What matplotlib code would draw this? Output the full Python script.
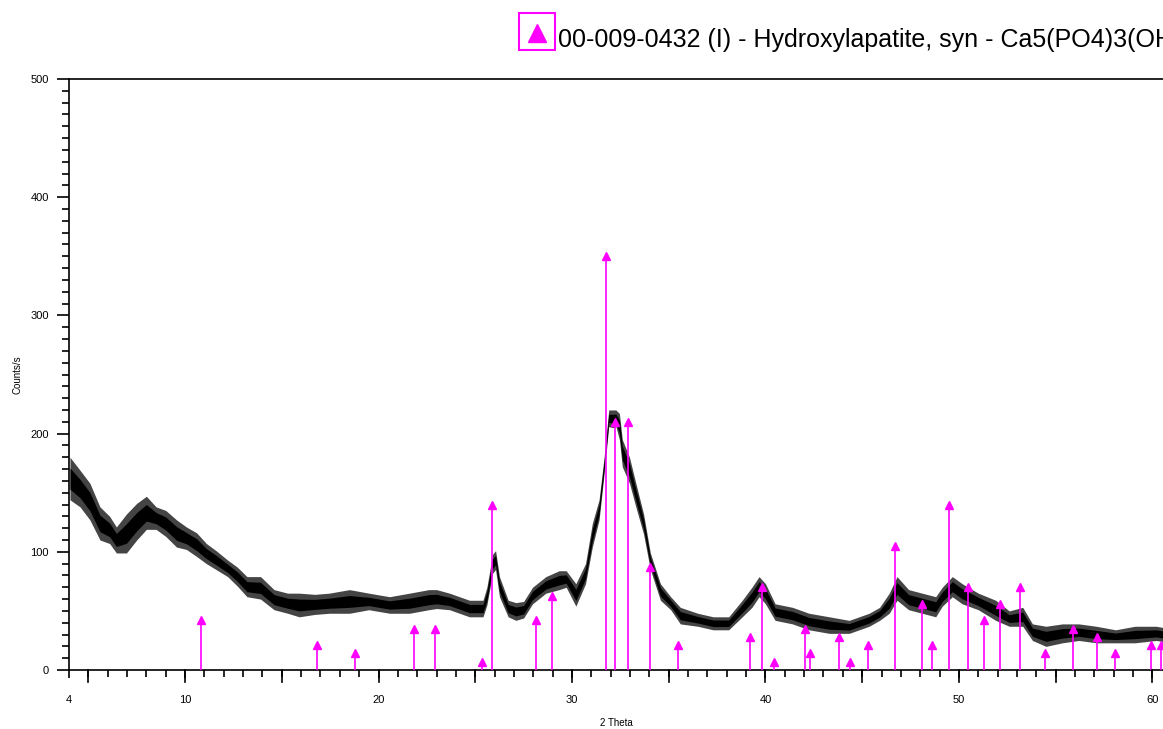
import matplotlib

matplotlib.use("Agg")
import matplotlib.pyplot as plt
from matplotlib.lines import Line2D
from matplotlib.patches import Rectangle
from matplotlib.ticker import FixedLocator, MultipleLocator

plt.rcParams["font.family"] = ["Liberation Sans", "DejaVu Sans"]

# measured pattern, given as the upper / lower edge of the noisy trace (counts/s)
two_theta = [4.05, 4.57, 5.08, 5.6, 6.1, 6.45, 6.97, 7.5, 8.0, 8.5, 9.0, 9.56, 10.07, 10.6,
             11.1, 11.6, 12.2, 12.7, 13.2, 13.9, 14.6, 15.3, 15.9, 16.7, 17.45, 18.5, 19.5,
             20.57, 21.6, 22.6, 23.0, 23.67, 24.7, 25.4, 25.6, 25.9, 26.05, 26.25, 26.7, 27.1,
             27.5, 27.96, 28.65, 29.34, 29.7, 30.2, 30.7, 31.05, 31.4, 31.66, 31.9, 32.1, 32.27,
             32.45, 32.6, 32.97, 33.3, 33.7, 34.05, 34.57, 35.1, 35.6, 36.5, 37.3, 38.1, 38.8,
             39.3, 39.67, 40.0, 40.5, 41.4, 42.25, 43.3, 44.33, 45.36, 45.9, 46.4, 46.8, 47.4,
             48.1, 48.8, 49.14, 49.66, 50.17, 51.0, 51.9, 52.6, 53.3, 53.8, 54.5, 55.35, 56.2,
             57.1, 58.1, 59.1, 60.2, 60.55]
upper = [180, 169, 158, 138, 130, 121, 132, 141, 147, 138, 135, 127, 121, 116,
         107, 101, 93, 87, 79, 79, 68, 65, 65, 64, 65, 68, 65,
         62, 65, 68, 68, 65, 59, 59, 70, 98, 101, 79, 59, 57,
         58, 70, 79, 84, 84, 73, 90, 124, 144, 180, 220, 220, 220,
         217, 195, 180, 158, 132, 99, 73, 62, 53, 48, 45, 45, 59,
         70, 79, 73, 56, 53, 48, 45, 42, 48, 53, 65, 79, 68,
         65, 62, 70, 79, 73, 65, 59, 50, 53, 39, 37, 39, 39,
         37, 34, 37, 37, 36]
lower = [144, 138, 127, 110, 107, 99, 99, 110, 119, 119, 113, 104, 102, 96,
         90, 85, 79, 71, 62, 60, 51, 48, 45, 47, 48, 48, 51,
         48, 48, 51, 52, 51, 45, 45, 55, 82, 85, 62, 45, 42,
         44, 56, 65, 68, 70, 54, 73, 104, 127, 166, 206, 205, 206,
         195, 172, 158, 138, 115, 85, 59, 51, 39, 37, 34, 34, 45,
         53, 62, 56, 42, 39, 34, 31, 31, 37, 42, 48, 59, 51,
         48, 45, 54, 62, 56, 51, 42, 37, 37, 25, 20, 23, 25,
         23, 23, 23, 25, 24]

# reference card 00-009-0432, hydroxylapatite: 2-theta and relative intensity
ref_2theta = [10.82, 16.84, 18.78, 21.82, 22.90, 25.35, 25.88, 28.13, 28.97, 31.77, 32.20,
              32.90, 34.05, 35.48, 39.20, 39.82, 40.45, 42.03, 42.32, 43.80, 44.37, 45.30,
              46.71, 48.10, 48.62, 49.47, 50.49, 51.28, 52.10, 53.14, 54.44, 55.88, 57.13,
              58.07, 59.94, 60.45]
ref_int = [12, 6, 4, 10, 10, 2, 40, 12, 18, 100, 60, 60, 25, 6, 8, 20, 2, 10, 4, 8, 2, 6,
           30, 16, 6, 40, 20, 12, 16, 20, 4, 10, 8, 4, 6, 6]
ref_scale = 3.5  # counts/s per % of relative intensity
ref_label = "00-009-0432 (I) - Hydroxylapatite, syn - Ca5(PO4)3(OH)"

MAG = "#ff00ff"

fig = plt.figure(figsize=(11.63, 7.29), dpi=100)
ax = fig.add_axes([69 / 1163, 59 / 729, 1 - 69 / 1163, 591 / 729])

# noisy trace: grey outer band with a dark core
ax.fill_between(two_theta, lower, upper, color="#444444", lw=0, zorder=2)
core_lo = [l + 0.25 * (u - l) for l, u in zip(lower, upper)]
core_hi = [u - 0.25 * (u - l) for l, u in zip(lower, upper)]
ax.fill_between(two_theta, core_lo, core_hi, color="black", lw=0, zorder=2)

heights = [i * ref_scale for i in ref_int]
ax.vlines(ref_2theta, 0, heights, color=MAG, lw=1.2, zorder=3)
ax.plot(ref_2theta, heights, ls="none", marker="^", ms=5.5, color=MAG, zorder=4, clip_on=False)

ax.set_xlim(4, 60.55)
ax.set_ylim(0, 500)
ax.spines["right"].set_visible(False)
for s in ("left", "bottom", "top"):
    ax.spines[s].set_linewidth(1.2)

ax.xaxis.set_major_locator(FixedLocator([4, 10, 20, 30, 40, 50, 60]))
ax.xaxis.set_minor_locator(MultipleLocator(1))
ax.yaxis.set_major_locator(MultipleLocator(100))
ax.yaxis.set_minor_locator(MultipleLocator(10))
ax.tick_params(which="major", direction="out", length=8.5, width=1.2, labelsize=8, pad=6)
ax.tick_params(which="minor", direction="out", length=5, width=1.2)
ax.tick_params(axis="x", which="major", length=6, pad=12)
# longer ticks every 5 degrees
for v in range(5, 61, 5):
    ax.plot([v, v], [0, -10], color="black", lw=1.2, clip_on=False, zorder=5)

ax.set_xlabel("2 Theta", fontsize=7, labelpad=9)
ax.set_ylabel("Counts/s", fontsize=7, labelpad=6)

# phase legend above the plot
fig.add_artist(Rectangle((519 / 1163, 1 - 50 / 729), 36 / 1163, 37 / 729,
                         transform=fig.transFigure, fill=False, edgecolor=MAG, lw=1.5))
fig.add_artist(Line2D([537 / 1163], [1 - 33 / 729], transform=fig.transFigure,
                      marker="^", ms=13, color=MAG, ls="none"))
fig.text(558 / 1163, 1 - 40 / 729, ref_label, fontsize=18, va="center", ha="left")

fig.savefig("out.png", dpi=100)
